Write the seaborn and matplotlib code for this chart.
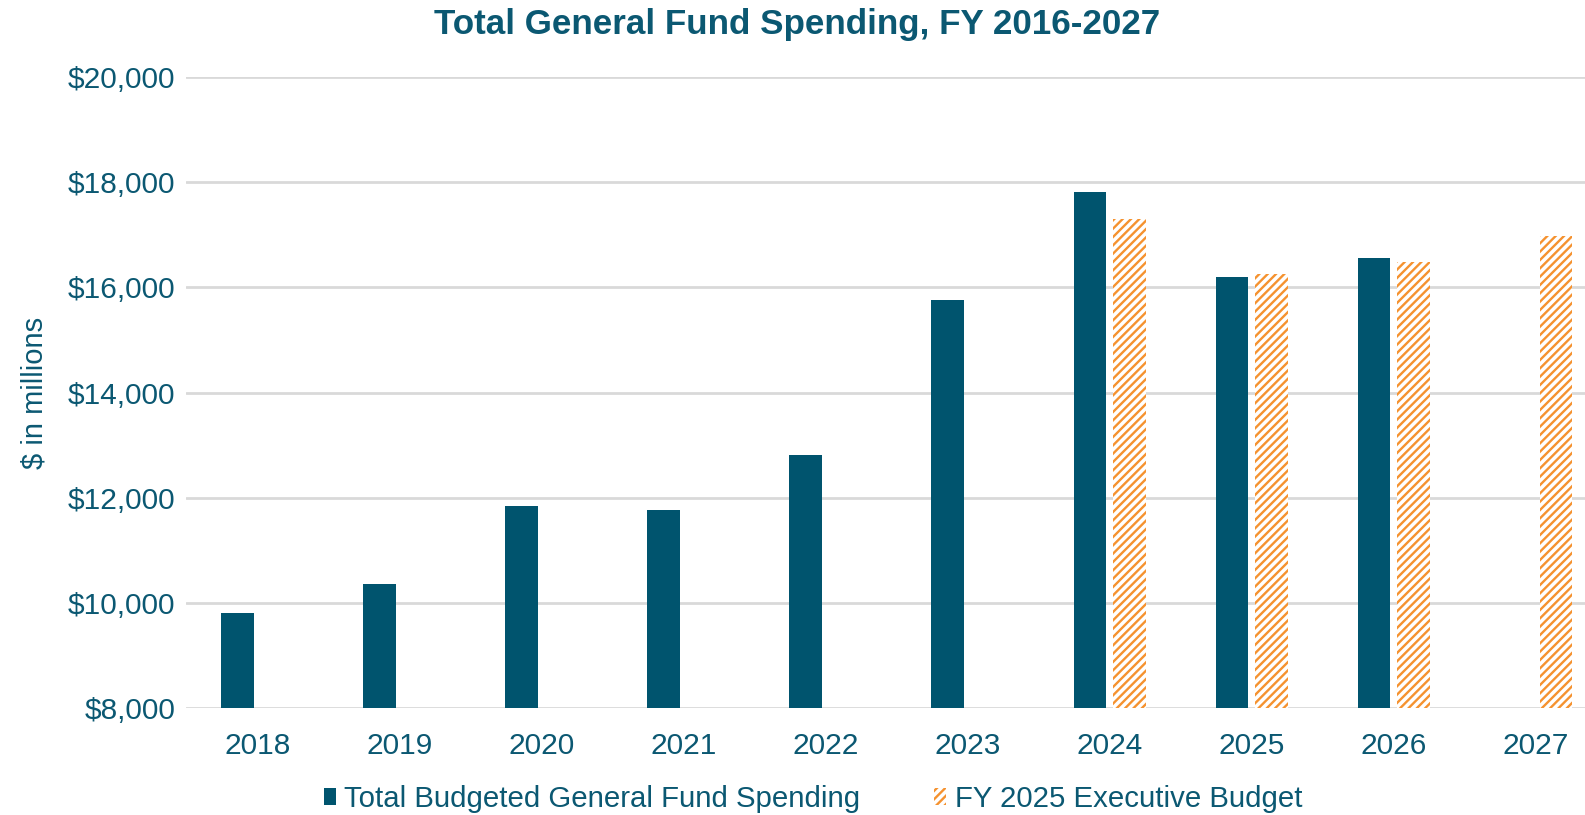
import pandas as pd
import numpy as np
import matplotlib
matplotlib.use("Agg")
import matplotlib.pyplot as plt
import seaborn as sns
from matplotlib.patches import Patch

# --- data ---
years = ["2018", "2019", "2020", "2021", "2022", "2023", "2024", "2025", "2026", "2027"]
total_budgeted = [9810, 10370, 11850, 11760, 12820, 15760, 17810, 16190, 16560, np.nan]
exec_budget = [np.nan, np.nan, np.nan, np.nan, np.nan, np.nan, 17300, 16250, 16480, 16970]
series_names = ["Total Budgeted General Fund Spending", "FY 2025 Executive Budget"]

df = pd.DataFrame({
    "year": years * 2,
    "value": total_budgeted + exec_budget,
    "series": [series_names[0]] * len(years) + [series_names[1]] * len(years),
})

navy = "#00546E"
orange = "#F5922F"
text_col = "#0B5872"

sns.set_style("white")
plt.rcParams["font.family"] = ["Liberation Sans", "DejaVu Sans"]
plt.rcParams["hatch.linewidth"] = 1.7

fig = plt.figure(figsize=(15.85, 8.15), dpi=100)
ax = fig.add_axes([0.1175, 0.131, 0.8825, 0.7745])

sns.barplot(
    data=df, x="year", y="value", hue="series", order=years,
    hue_order=series_names, palette=[navy, orange],
    width=0.56, gap=0.18, ax=ax, legend=False, saturation=1,
)

# hatch the executive budget bars
for bar in ax.containers[1]:
    bar.set_facecolor("white")
    bar.set_edgecolor(orange)
    bar.set_hatch("////")
    bar.set_linewidth(0)
for bar in ax.containers[0]:
    bar.set_linewidth(0)

ax.set_ylim(8000, 20000)
ax.set_yticks(range(8000, 20001, 2000))
ax.set_yticklabels([f"${v:,}" for v in range(8000, 20001, 2000)])
ax.set_xlim(-0.5, 9.345)
ax.yaxis.grid(True, color="#D9D9D9", linewidth=2)
ax.set_axisbelow(True)
for s in ax.spines.values():
    s.set_visible(False)

ax.tick_params(axis="both", length=0, labelsize=21.5, colors=text_col)
ax.tick_params(axis="x", pad=17)
ax.tick_params(axis="y", pad=8)
ax.set_xlabel("")
ax.set_ylabel("$ in millions", fontsize=21, color=text_col, labelpad=14)

fig.suptitle("Total General Fund Spending, FY 2016-2027", fontsize=25.2,
             fontweight="bold", color=text_col, x=0.503, y=0.970, va="center")

handles = [
    Patch(facecolor=navy, edgecolor="none"),
    Patch(facecolor="white", edgecolor=orange, hatch="////", linewidth=0),
]
fig.legend(handles, series_names, loc="lower center", ncol=2, frameon=False,
           fontsize=21.2, labelcolor=text_col, bbox_to_anchor=(0.513, -0.03),
           handlelength=0.4, handleheight=0.55, handletextpad=0.3, columnspacing=2.5)

fig.savefig("out.png", dpi=100)
